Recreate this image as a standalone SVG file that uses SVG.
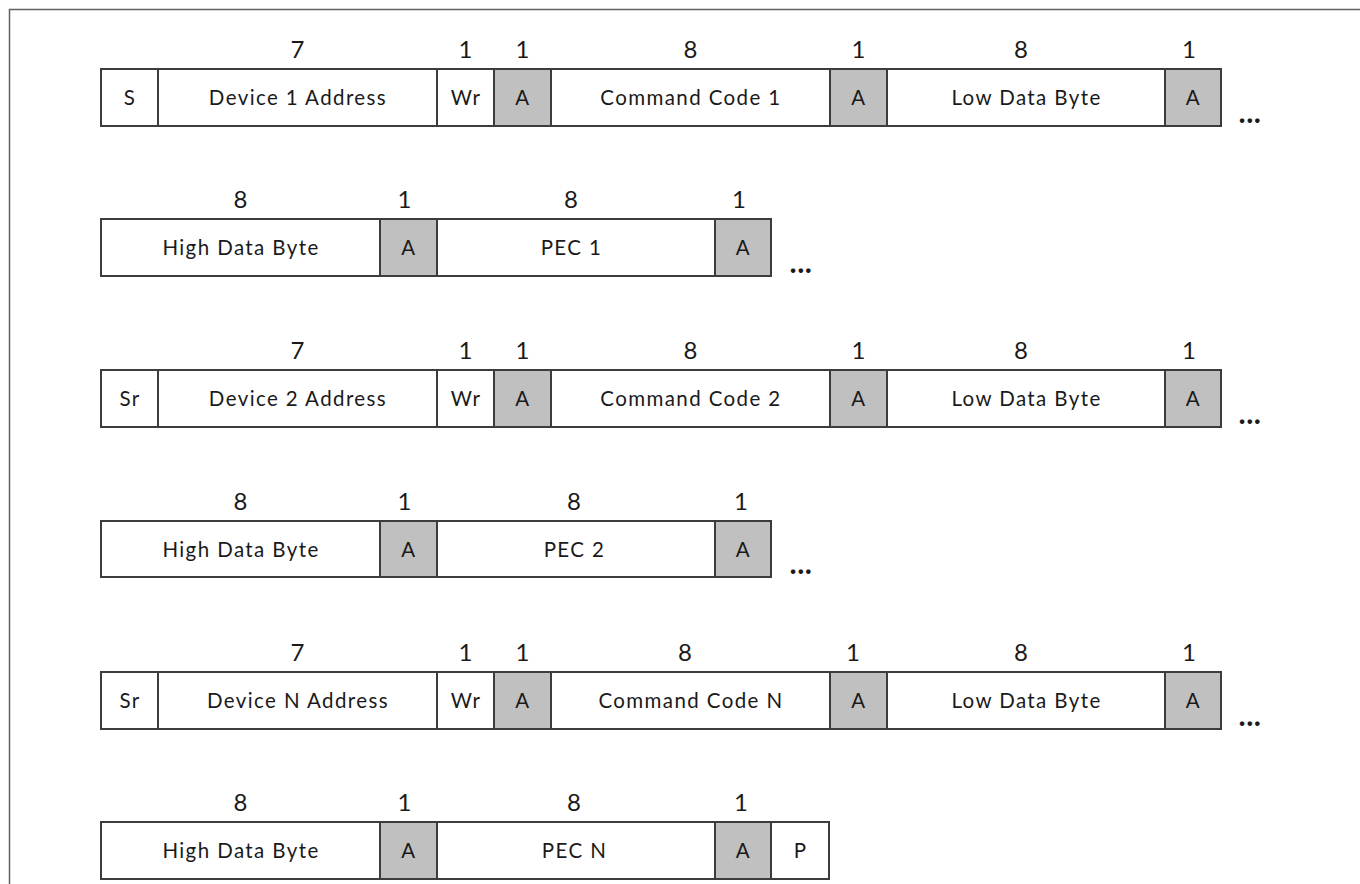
<svg xmlns="http://www.w3.org/2000/svg" width="1360" height="884" viewBox="0 0 1360 884">
<defs>
<style>
.c{fill:#ffffff;stroke:#3c3c3c;stroke-width:2}
.g{fill:#c0c0c0;stroke:#3c3c3c;stroke-width:2}
.t{font-family:Lato,"Liberation Sans",sans-serif;font-size:20.5px;letter-spacing:1.4px;fill:#1a1a1a;text-anchor:middle}
.n{font-family:Lato,"Liberation Sans",sans-serif;font-size:24px;fill:#1a1a1a;text-anchor:middle}
.e{font-family:Lato,"Liberation Sans",sans-serif;font-size:30px;font-weight:bold;letter-spacing:0.5px;fill:#1a1a1a;text-anchor:middle}
</style>
</defs>
<rect width="1360" height="884" fill="#ffffff"/>
<path d="M9.5 884 V9.5 H1360" fill="none" stroke="#606060" stroke-width="1.5"/>

<!-- Row 1 -->
<g id="row1">
<g id="r1-S"><rect class="c" x="101" y="69" width="57" height="57"/><text class="t" x="130" y="105">S</text></g>
<g id="r1-addr"><rect class="c" x="158" y="69" width="279" height="57"/><text class="t" x="298" y="105">Device 1 Address</text><text class="n" x="297.5" y="58">7</text></g>
<g id="r1-wr"><rect class="c" x="437" y="69" width="57" height="57"/><text class="t" x="466" y="105">Wr</text><text class="n" x="465.5" y="58">1</text></g>
<g id="r1-a1"><rect class="g" x="494" y="69" width="57" height="57"/><text class="t" x="523" y="105">A</text><text class="n" x="522.5" y="58">1</text></g>
<g id="r1-cmd"><rect class="c" x="551" y="69" width="279" height="57"/><text class="t" x="691" y="105">Command Code 1</text><text class="n" x="690.5" y="58">8</text></g>
<g id="r1-a2"><rect class="g" x="830" y="69" width="57" height="57"/><text class="t" x="859" y="105">A</text><text class="n" x="858.5" y="58">1</text></g>
<g id="r1-low"><rect class="c" x="887" y="69" width="278" height="57"/><text class="t" x="1026.5" y="105">Low Data Byte</text><text class="n" x="1021" y="58">8</text></g>
<g id="r1-a3"><rect class="g" x="1165" y="69" width="56" height="57"/><text class="t" x="1193.5" y="105">A</text><text class="n" x="1189" y="58">1</text></g>
<text class="e" x="1250" y="123">...</text>
</g>

<!-- Row 2 -->
<g id="row2">
<g id="r2-high"><rect class="c" x="101" y="219" width="279" height="57"/><text class="t" x="241" y="255">High Data Byte</text><text class="n" x="240.5" y="208">8</text></g>
<g id="r2-a1"><rect class="g" x="380" y="219" width="57" height="57"/><text class="t" x="409" y="255">A</text><text class="n" x="404.5" y="208">1</text></g>
<g id="r2-pec"><rect class="c" x="437" y="219" width="278" height="57"/><text class="t" x="571.5" y="255">PEC 1</text><text class="n" x="571" y="208">8</text></g>
<g id="r2-a2"><rect class="g" x="715" y="219" width="56" height="57"/><text class="t" x="743.5" y="255">A</text><text class="n" x="739" y="208">1</text></g>
<text class="e" x="801" y="273">...</text>
</g>

<!-- Row 3 -->
<g id="row3">
<g id="r3-Sr"><rect class="c" x="101" y="370" width="57" height="57"/><text class="t" x="130" y="406">Sr</text></g>
<g id="r3-addr"><rect class="c" x="158" y="370" width="279" height="57"/><text class="t" x="298" y="406">Device 2 Address</text><text class="n" x="297.5" y="359">7</text></g>
<g id="r3-wr"><rect class="c" x="437" y="370" width="57" height="57"/><text class="t" x="466" y="406">Wr</text><text class="n" x="465.5" y="359">1</text></g>
<g id="r3-a1"><rect class="g" x="494" y="370" width="57" height="57"/><text class="t" x="523" y="406">A</text><text class="n" x="522.5" y="359">1</text></g>
<g id="r3-cmd"><rect class="c" x="551" y="370" width="279" height="57"/><text class="t" x="691" y="406">Command Code 2</text><text class="n" x="690.5" y="359">8</text></g>
<g id="r3-a2"><rect class="g" x="830" y="370" width="57" height="57"/><text class="t" x="859" y="406">A</text><text class="n" x="858.5" y="359">1</text></g>
<g id="r3-low"><rect class="c" x="887" y="370" width="278" height="57"/><text class="t" x="1026.5" y="406">Low Data Byte</text><text class="n" x="1021" y="359">8</text></g>
<g id="r3-a3"><rect class="g" x="1165" y="370" width="56" height="57"/><text class="t" x="1193.5" y="406">A</text><text class="n" x="1189" y="359">1</text></g>
<text class="e" x="1250" y="424">...</text>
</g>

<!-- Row 4 -->
<g id="row4">
<g id="r4-high"><rect class="c" x="101" y="521" width="279" height="56"/><text class="t" x="241" y="557">High Data Byte</text><text class="n" x="240.5" y="510">8</text></g>
<g id="r4-a1"><rect class="g" x="380" y="521" width="57" height="56"/><text class="t" x="409" y="557">A</text><text class="n" x="404.5" y="510">1</text></g>
<g id="r4-pec"><rect class="c" x="437" y="521" width="278" height="56"/><text class="t" x="574.5" y="557">PEC 2</text><text class="n" x="574" y="510">8</text></g>
<g id="r4-a2"><rect class="g" x="715" y="521" width="56" height="56"/><text class="t" x="743.5" y="557">A</text><text class="n" x="741" y="510">1</text></g>
<text class="e" x="801" y="574">...</text>
</g>

<!-- Row 5 -->
<g id="row5">
<g id="r5-Sr"><rect class="c" x="101" y="672" width="57" height="57"/><text class="t" x="130" y="708">Sr</text></g>
<g id="r5-addr"><rect class="c" x="158" y="672" width="279" height="57"/><text class="t" x="298" y="708">Device N Address</text><text class="n" x="297.5" y="661">7</text></g>
<g id="r5-wr"><rect class="c" x="437" y="672" width="57" height="57"/><text class="t" x="466" y="708">Wr</text><text class="n" x="465.5" y="661">1</text></g>
<g id="r5-a1"><rect class="g" x="494" y="672" width="57" height="57"/><text class="t" x="523" y="708">A</text><text class="n" x="522.5" y="661">1</text></g>
<g id="r5-cmd"><rect class="c" x="551" y="672" width="279" height="57"/><text class="t" x="691" y="708">Command Code N</text><text class="n" x="685" y="661">8</text></g>
<g id="r5-a2"><rect class="g" x="830" y="672" width="57" height="57"/><text class="t" x="859" y="708">A</text><text class="n" x="853" y="661">1</text></g>
<g id="r5-low"><rect class="c" x="887" y="672" width="278" height="57"/><text class="t" x="1026.5" y="708">Low Data Byte</text><text class="n" x="1021" y="661">8</text></g>
<g id="r5-a3"><rect class="g" x="1165" y="672" width="56" height="57"/><text class="t" x="1193.5" y="708">A</text><text class="n" x="1189" y="661">1</text></g>
<text class="e" x="1250" y="726">...</text>
</g>

<!-- Row 6 -->
<g id="row6">
<g id="r6-high"><rect class="c" x="101" y="822" width="279" height="57"/><text class="t" x="241" y="858">High Data Byte</text><text class="n" x="240.5" y="811">8</text></g>
<g id="r6-a1"><rect class="g" x="380" y="822" width="57" height="57"/><text class="t" x="409" y="858">A</text><text class="n" x="404.5" y="811">1</text></g>
<g id="r6-pec"><rect class="c" x="437" y="822" width="278" height="57"/><text class="t" x="574.5" y="858">PEC N</text><text class="n" x="574" y="811">8</text></g>
<g id="r6-a2"><rect class="g" x="715" y="822" width="56" height="57"/><text class="t" x="743.5" y="858">A</text><text class="n" x="741" y="811">1</text></g>
<g id="r6-P"><rect class="c" x="771" y="822" width="58" height="57"/><text class="t" x="800.5" y="858">P</text></g>
</g>

<g id="connectors"/>
</svg>
